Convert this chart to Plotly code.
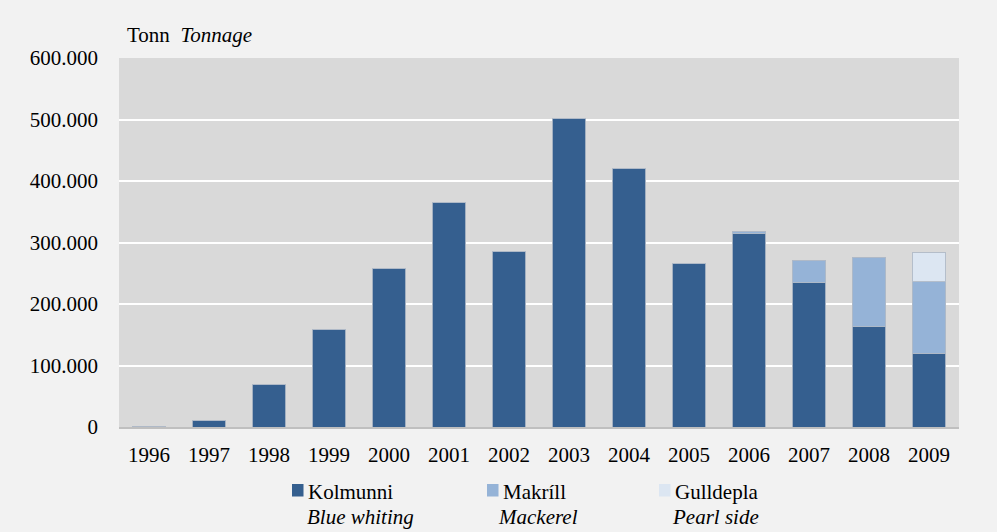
import plotly.graph_objects as go

years = ["1996", "1997", "1998", "1999", "2000", "2001", "2002", "2003",
         "2004", "2005", "2006", "2007", "2008", "2009"]
kolmunni = [1500, 10500, 69500, 159000, 258500, 364500, 286000, 501000,
            421000, 265500, 314000, 234500, 163000, 120000]
makrill = [0, 0, 0, 0, 0, 0, 0, 0, 0, 0, 4500, 37000, 113000, 116000]
gulldepla = [0, 0, 0, 0, 0, 0, 0, 0, 0, 0, 0, 0, 0, 47000]
y_ticks = [0, 100000, 200000, 300000, 400000, 500000, 600000]
series_names = ["Kolmunni", "Makríll", "Gulldepla"]
series_names_en = ["Blue whiting", "Mackerel", "Pearl side"]
series_colors = ["#355f8f", "#95b3d7", "#dce6f2"]

FONT = "Liberation Serif"
FS = 21
W, H = 997, 532
L, R, T, B = 119, 38, 58, 105
PW, PH = W - L - R, H - T - B


def px(x):
    return (x - L) / PW


def py(y):
    return (H - B - y) / PH


line = dict(color="rgba(175,185,198,0.9)", width=1)

fig = go.Figure()
for name, vals, col in zip(series_names, [kolmunni, makrill, gulldepla], series_colors):
    fig.add_bar(x=years, y=vals, name=name, marker=dict(color=col, line=line))

annotations = [dict(text="Tonn  <i>Tonnage</i>", x=px(125), y=py(35), xref="paper", yref="paper",
                    showarrow=False, xanchor="left", yanchor="middle",
                    font=dict(family=FONT, size=FS))]
shapes = []
leg_sq_x = [292, 487, 659]
leg_txt_x = [306, 501, 673]
leg_it_x = [305, 496, 670]
for i in range(3):
    shapes.append(dict(type="rect", xref="paper", yref="paper",
                       x0=px(leg_sq_x[i]), x1=px(leg_sq_x[i] + 11.5),
                       y0=py(484), y1=py(496.5),
                       fillcolor=series_colors[i], line=dict(width=0)))
    annotations.append(dict(text=series_names[i], x=px(leg_txt_x[i]), y=py(491.5),
                            xref="paper", yref="paper", showarrow=False,
                            xanchor="left", yanchor="middle",
                            font=dict(family=FONT, size=FS)))
    annotations.append(dict(text="<i>" + series_names_en[i] + "</i>", x=px(leg_it_x[i]), y=py(516.5),
                            xref="paper", yref="paper", showarrow=False,
                            xanchor="left", yanchor="middle",
                            font=dict(family=FONT, size=FS)))

fig.update_layout(
    width=W, height=H,
    barmode="stack", bargap=0.445,
    paper_bgcolor="#f2f2f2", plot_bgcolor="#d9d9d9",
    margin=dict(l=L, r=R, t=T, b=B, autoexpand=False),
    separators=",.",
    font=dict(family=FONT, size=FS, color="#000000"),
    showlegend=False,
    annotations=annotations,
    shapes=shapes,
)
fig.update_yaxes(range=[0, 600000], tickvals=y_ticks, tickformat=",d",
                 gridcolor="#ffffff", gridwidth=2, zeroline=False,
                 showline=False, ticklabelstandoff=20, fixedrange=True,
                 tickfont=dict(family=FONT, size=FS))
fig.update_xaxes(showline=True, linecolor="#bfbfbf", linewidth=2,
                 ticks="", ticklabelstandoff=8, fixedrange=True,
                 tickfont=dict(family=FONT, size=FS))
fig.write_html("out.html", config={"displayModeBar": False},
               post_script="document.body.style.margin='0';document.body.style.background='#f2f2f2';")
